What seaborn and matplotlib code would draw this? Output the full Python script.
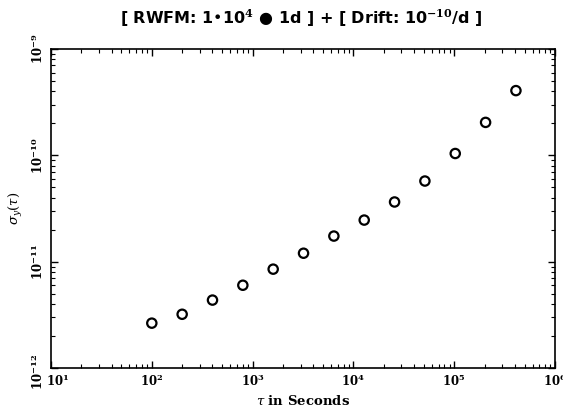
import matplotlib
matplotlib.use("Agg")
import matplotlib.pyplot as plt
import matplotlib.transforms as mtransforms
import seaborn as sns
import pandas as pd
import numpy as np
from matplotlib.ticker import LogLocator, FuncFormatter

tau = [100, 200, 400, 800, 1600, 3200, 6400, 12800, 25600, 51200, 102400, 204800, 409600]
sigma = [2.64e-12, 3.2e-12, 4.35e-12, 6.0e-12, 8.5e-12, 1.2e-11, 1.74e-11,
         2.46e-11, 3.64e-11, 5.73e-11, 1.04e-10, 2.04e-10, 4.06e-10]
title_text = "[ RWFM: 1\u2022" + r"10$^{\mathbf{4}}$" + " \u25CF 1d ] + [ Drift: " + r"10$^{\mathbf{-10}}$" + "/d ]"

sns.set_style("ticks")
plt.rcParams['font.family'] = ['DejaVu Serif', 'DejaVu Sans']
plt.rcParams['mathtext.fontset'] = 'dejavuserif'
plt.rcParams['text.color'] = 'black'
plt.rcParams['axes.labelcolor'] = 'black'
plt.rcParams['xtick.color'] = 'black'
plt.rcParams['ytick.color'] = 'black'

df = pd.DataFrame({"tau": tau, "sigma": sigma})

fig = plt.figure(figsize=(5.63, 4.13), dpi=100)
ax = fig.add_axes([0.0906, 0.109, 0.8952, 0.7724])
sns.scatterplot(data=df, x="tau", y="sigma", ax=ax, marker="o", s=45,
                facecolor="none", edgecolor="black", linewidth=1.6)
ax.set_xscale("log")
ax.set_yscale("log")
ax.set_xlim(10, 1e6)
ax.set_ylim(1e-12, 1e-9)

ax.xaxis.set_major_locator(LogLocator(base=10, numticks=10))
ax.yaxis.set_major_locator(LogLocator(base=10, numticks=10))
ax.xaxis.set_minor_locator(LogLocator(base=10, subs=np.arange(2, 10), numticks=20))
ax.yaxis.set_minor_locator(LogLocator(base=10, subs=np.arange(2, 10), numticks=20))
fmt = FuncFormatter(lambda v, p: r"$\mathbf{10^{%d}}$" % int(round(np.log10(v))))
ax.xaxis.set_major_formatter(fmt)
ax.yaxis.set_major_formatter(fmt)
ax.tick_params(which="both", direction="in", top=True, right=True, colors="black")
ax.tick_params(which="major", length=5, width=1, labelsize=8.5)
ax.tick_params(which="minor", length=3, width=0.8)
plt.setp(ax.get_yticklabels(), rotation=90, va="center")
for s in ax.spines.values():
    s.set_color("black")
    s.set_linewidth(1.2)

fig.canvas.draw()
xl = ax.get_xticklabels()
yl = ax.get_yticklabels()
for lab in xl:
    if abs(lab.get_position()[0] - 10) < 1e-6:
        lab.set_transform(lab.get_transform() + mtransforms.ScaledTranslation(7/100, 0, fig.dpi_scale_trans))
for lab in yl:
    if abs(lab.get_position()[1] - 1e-12) < 1e-20:
        lab.set_transform(lab.get_transform() + mtransforms.ScaledTranslation(0, -4/100, fig.dpi_scale_trans))

ax.set_xlabel(r"$\tau$ in Seconds", fontsize=9.5, fontweight="bold", color="black")
ax.set_ylabel(r"$\sigma_y(\tau)$", fontsize=9.5, fontweight="bold", color="black")
fig.text(0.535, 0.955, title_text, ha="center", va="center", fontsize=11.5,
         fontweight="bold", family=["DejaVu Sans"], color="black")

fig.savefig("out.png", dpi=100, facecolor="white")
